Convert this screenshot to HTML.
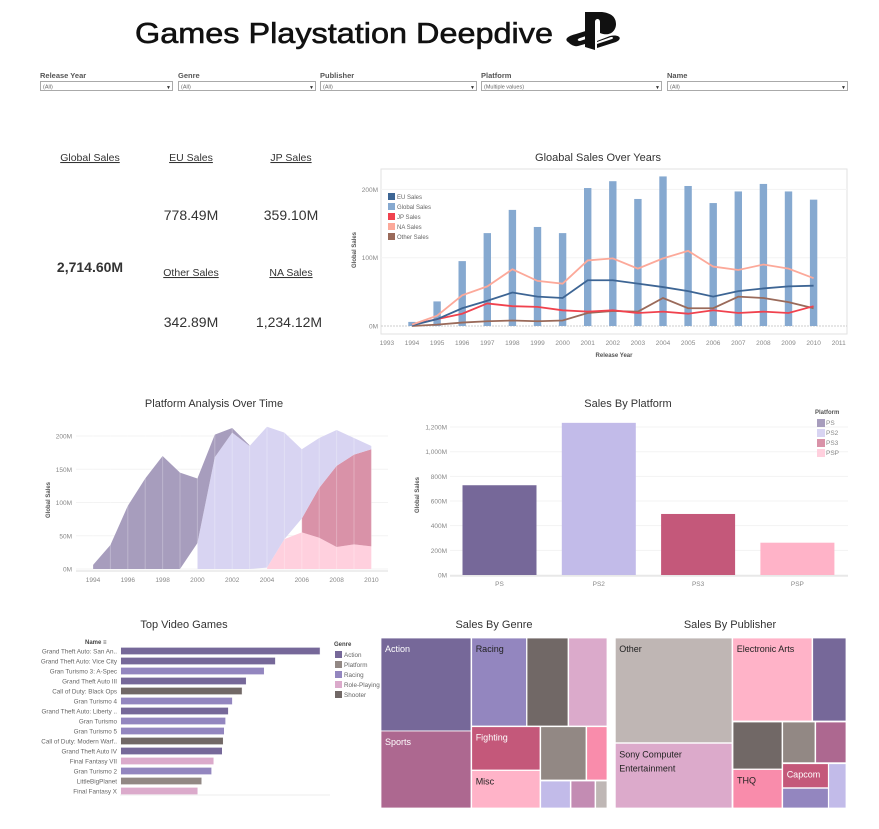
<!DOCTYPE html>
<html><head><meta charset="utf-8"><style>
html,body{margin:0;padding:0;background:#fff;width:879px;height:829px;overflow:hidden}
svg text{font-family:"Liberation Sans",sans-serif}
</style></head><body>
<svg id="s" width="879" height="829" viewBox="0 0 879 829" xmlns="http://www.w3.org/2000/svg">
<text x="135" y="43" font-size="29" fill="#111" stroke="#111" stroke-width="0.6" textLength="418" lengthAdjust="spacingAndGlyphs">Games Playstation Deepdive</text>
<g fill="#111">
<path d="M585 12 L585 47 L595 50 L595 22 C595 18 600 18 600 22 L600 33 C610 37 616 31 616 24 C616 17 611 13 602 12 Z"/>
<path d="M568 42 C564 39 568 36 576 34 L592 29 L592 34 L580 38 C577 39 577 41 580 41 L592 37 L592 42 L578 46 C574 47 570 44 568 42 Z"/>
<path d="M597 41 L610 36 C618 34 624 38 616 42 L597 48 L597 44 L612 39 C614 38 613 37 611 37 L597 42 Z"/>
</g>
<g id="filters"></g>
<g id="kpi" font-size="14" fill="#333" text-anchor="middle">
<text x="90" y="161" font-size="10.5" text-decoration="underline">Global Sales</text>
<text x="191" y="161" font-size="10.5" text-decoration="underline">EU Sales</text>
<text x="291" y="161" font-size="10.5" text-decoration="underline">JP Sales</text>
<text x="191" y="220">778.49M</text>
<text x="291" y="220">359.10M</text>
<text x="90" y="272" font-weight="bold">2,714.60M</text>
<text x="191" y="276" font-size="10.5" text-decoration="underline">Other Sales</text>
<text x="291" y="276" font-size="10.5" text-decoration="underline">NA Sales</text>
<text x="191" y="327">342.89M</text>
<text x="289" y="327">1,234.12M</text>
</g>
<g id="c1"></g><g id="c2"></g><g id="c3"></g><g id="c4"></g>
<g id="tm"></g>
</svg>
<script>
// ---- Chart 1: Global sales over years ----
const years=[1994,1995,1996,1997,1998,1999,2000,2001,2002,2003,2004,2005,2006,2007,2008,2009,2010];
const globalSales=[6,36,95,136,170,145,136,202,212,186,219,205,180,197,208,197,185];
const naSales=[2,15,45,58,83,66,62,96,99,84,99,110,87,82,90,84,70];
const euSales=[1,10,26,37,49,43,41,67,67,62,57,51,43,51,55,58,59];
const jpSales=[2,10,18,33,29,28,23,21,23,19,21,18,23,19,21,19,29];
const otherSales=[0,2,5,7,8,7,8,19,22,21,41,26,26,43,41,35,26];
const c1Ticks=[0,100,200];
// ---- Chart 2: Platform analysis (stacked area), null = no sales that year ----
const psSeries=[6,36,95,136,170,145,97,34,7,1,null,null,null,null,null,null,null];
const ps2Series=[null,null,null,null,null,null,39,168,205,185,212,160,104,75,54,25,5];
const ps3Series=[null,null,null,null,null,null,null,null,null,null,null,null,21,75,122,135,146];
const pspSeries=[null,null,null,null,null,null,null,null,null,null,2,45,55,47,33,37,34];
const c2Ticks=[0,50,100,150,200];
const c2Years=[1994,1996,1998,2000,2002,2004,2006,2008,2010];
// ---- Chart 3: Sales by platform ----
const platforms=['PS','PS2','PS3','PSP'];
const platformSales=[728,1234,495,262];
const c3Ticks=[0,200,400,600,800,1000,1200];
// ---- Chart 4: Top video games ----
const gameNames=['Grand Theft Auto: San An..','Grand Theft Auto: Vice City','Gran Turismo 3: A-Spec','Grand Theft Auto III','Call of Duty: Black Ops','Gran Turismo 4','Grand Theft Auto: Liberty ..','Gran Turismo','Gran Turismo 5','Call of Duty: Modern Warf..','Grand Theft Auto IV','Final Fantasy VII','Gran Turismo 2','LittleBigPlanet','Final Fantasy X'];
const gameSales=[20.81,16.15,14.98,13.10,12.67,11.66,11.24,10.95,10.81,10.70,10.60,9.72,9.49,8.46,8.05];
const gameGenres=['Action','Action','Racing','Action','Shooter','Racing','Action','Racing','Racing','Shooter','Action','Role-Playing','Racing','Platform','Role-Playing'];

const NS='http://www.w3.org/2000/svg';
function el(tag,attrs,parent,txt){const e=document.createElementNS(NS,tag);for(const k in attrs)e.setAttribute(k,attrs[k]);if(txt!==undefined)e.textContent=txt;parent.appendChild(e);return e;}
const G='#888';

// filters
const fl=document.getElementById('filters');
const filters=[['Release Year','(All)',40,172],['Genre','(All)',178,315],['Publisher','(All)',320,476],['Platform','(Multiple values)',481,661],['Name','(All)',667,847]];
filters.forEach(f=>{
  const g=el('g',{},fl);
  
  
  el('text',{x:f[2],y:78,'font-size':7.5,fill:'#555','font-weight':'bold'},g,f[0]);
  el('rect',{x:f[2]+0.5,y:81.5,width:f[3]-f[2],height:9,fill:'#fff',stroke:'#aaa'},g);
  el('text',{x:f[2]+3,y:88.5,'font-size':5.5,fill:'#666'},g,f[1]);
  el('text',{x:f[3]-6,y:89,'font-size':5,fill:'#333'},g,'▼');
});

// chart 1
(function(){
  const g=document.getElementById('c1');
  
  
  const X=y=>412+(y-1994)*25.1, Y=v=>326-v*0.683;
  el('text',{x:598,y:161,'font-size':11,fill:'#333','text-anchor':'middle'},g,'Gloabal Sales Over Years');
  el('rect',{x:381,y:169,width:466,height:165,fill:'none',stroke:'#e2e2e2'},g);
  c1Ticks.forEach(t=>{el('line',{x1:381,x2:847,y1:Y(t),y2:Y(t),stroke:t?'#f3f3f3':'#ccc','stroke-dasharray':t?'':'2,1'},g);
    const tx=el('text',{x:378,y:Y(t)+2.5,'font-size':6.5,fill:G,'text-anchor':'end'},g,t+'M');});
  for(let y=1993;y<=2011;y++){const tx=el('text',{x:X(y),y:345,'font-size':6.5,fill:G,'text-anchor':'middle'},g,y);}
  el('text',{x:614,y:357,'font-size':6,fill:'#555','font-weight':'bold','text-anchor':'middle'},g,'Release Year');
  el('text',{x:0,y:0,'font-size':6,fill:'#555','font-weight':'bold','text-anchor':'middle',transform:'translate(356,250) rotate(-90)'},g,'Global Sales');
  years.forEach((y,i)=>{const r=el('rect',{x:X(y)-3.7,y:Y(globalSales[i]),width:7.4,height:globalSales[i]*0.683,fill:'#86a9d0'},g);});
  const lines=[[otherSales,'#9a6a5a','other-sales-line'],[jpSales,'#f0424e','jp-sales-line'],[euSales,'#3d6594','eu-sales-line'],[naSales,'#fca99a','na-sales-line']];
  lines.forEach(l=>{const p=el('polyline',{points:years.map((y,i)=>X(y)+','+Y(l[0][i])).join(' '),fill:'none',stroke:l[1],'stroke-width':1.8},g);});
  const leg=[['EU Sales','#3d6594'],['Global Sales','#86a9d0'],['JP Sales','#f0424e'],['NA Sales','#fca99a'],['Other Sales','#9a6a5a']];
  leg.forEach((l,i)=>{const lg=el('g',{},g);
    el('rect',{x:388,y:193+i*10,width:7,height:7,fill:l[1]},lg);el('text',{x:397,y:199+i*10,'font-size':6,fill:'#666'},lg,l[0]);});
})();

// chart 2
(function(){
  const g=document.getElementById('c2');
  
  
  const X=y=>93+(y-1994)*17.4, Y=v=>569-v*0.665;
  el('text',{x:214,y:407,'font-size':11,fill:'#333','text-anchor':'middle'},g,'Platform Analysis Over Time');
  c2Ticks.forEach(t=>{el('line',{x1:76,x2:388,y1:Y(t),y2:Y(t),stroke:'#f3f3f3'},g);
    const tx=el('text',{x:72,y:Y(t)+2.5,'font-size':6.5,fill:G,'text-anchor':'end'},g,t+'M');});
  el('line',{x1:76,x2:388,y1:571,y2:571,stroke:'#ddd'},g);
  c2Years.forEach(y=>{const tx=el('text',{x:X(y),y:582,'font-size':6.5,fill:G,'text-anchor':'middle'},g,y);});
  el('text',{x:0,y:0,'font-size':6,fill:'#555','font-weight':'bold','text-anchor':'middle',transform:'translate(50,500) rotate(-90)'},g,'Global Sales');
  const stack=[[pspSeries,'#ffd0de','psp-area'],[ps3Series,'#d992a8','ps3-area'],[ps2Series,'#d8d4f2','ps2-area'],[psSeries,'#a79dbd','ps-area']];
  let base=years.map(()=>0);
  stack.forEach(s=>{const top=base.map((b,i)=>b+(s[0][i]||0));
    const idx=years.map((y,i)=>i).filter(i=>s[0][i]!==null);
    const pts=idx.map(i=>X(years[i])+','+Y(top[i])).concat(idx.slice().reverse().map(i=>X(years[i])+','+Y(base[i])));
    const p=el('polygon',{points:pts.join(' '),fill:s[1]},g);
    base=top;});
  years.forEach(y=>el('line',{x1:X(y),x2:X(y),y1:Y(0),y2:Y(230),stroke:'#fff','stroke-opacity':0.25},g));
})();

// chart 3
(function(){
  const g=document.getElementById('c3');
  
  
  const Y=v=>575-v*0.1233, X=i=>450+i*99.3;
  el('text',{x:628,y:407,'font-size':11,fill:'#333','text-anchor':'middle'},g,'Sales By Platform');
  c3Ticks.forEach(t=>{el('line',{x1:450,x2:848,y1:Y(t),y2:Y(t),stroke:'#f3f3f3'},g);
    const tx=el('text',{x:447,y:Y(t)+2.5,'font-size':6.5,fill:G,'text-anchor':'end'},g,t.toLocaleString('en-US')+'M');});
  el('line',{x1:450,x2:848,y1:576,y2:576,stroke:'#ddd'},g);
  el('text',{x:0,y:0,'font-size':6,fill:'#555','font-weight':'bold','text-anchor':'middle',transform:'translate(419,495) rotate(-90)'},g,'Global Sales');
  const cols=['#766899','#c2bbe9','#c4587a','#ffb3c8'];
  platforms.forEach((p,i)=>{const r=el('rect',{x:X(i)+12.5,y:Y(platformSales[i]),width:74,height:platformSales[i]*0.1233,fill:cols[i]},g);
    el('text',{x:X(i)+49.5,y:586,'font-size':6.5,fill:G,'text-anchor':'middle'},g,p);});
  el('text',{x:815,y:414,'font-size':6,fill:'#555','font-weight':'bold'},g,'Platform');
  const lc=['#a79dbd','#d8d4f2','#d992a8','#ffd0de'];
  platforms.forEach((p,i)=>{const lg=el('g',{},g);
    el('rect',{x:817,y:419+i*10,width:8,height:8,fill:lc[i]},lg);el('text',{x:826,y:425+i*10,'font-size':6.5,fill:G},lg,p);});
})();

// chart 4
(function(){
  const g=document.getElementById('c4');
  
  
  const gc={'Action':'#766899','Platform':'#928884','Racing':'#9386bf','Role-Playing':'#dbaacb','Shooter':'#716866'};
  const X=v=>120.7+v*9.58, Yc=i=>651+i*10;
  el('text',{x:184,y:628,'font-size':11,fill:'#333','text-anchor':'middle'},g,'Top Video Games');
  el('text',{x:85,y:644,'font-size':6,fill:'#444','font-weight':'bold'},g,'Name ≡');
  gameNames.forEach((n,i)=>{
    const t=el('text',{x:117,y:Yc(i)+2.3,'font-size':6.3,fill:'#666','text-anchor':'end'},g,n);
    const r=el('rect',{x:120.7,y:Yc(i)-3.6,width:X(gameSales[i])-120.7,height:7.2,fill:gc[gameGenres[i]],stroke:'#fff','stroke-width':0.5},g);
  });
  el('line',{x1:120,x2:330,y1:795,y2:795,stroke:'#eee'},g);
  el('text',{x:334,y:646,'font-size':6,fill:'#444','font-weight':'bold'},g,'Genre');
  Object.keys(gc).forEach((k,i)=>{const lg=el('g',{},g);
    el('rect',{x:335,y:651+i*10,width:7,height:7,fill:gc[k]},lg);el('text',{x:344,y:657+i*10,'font-size':6.3,fill:'#666'},lg,k);});
})();

// treemaps
(function(){
  const g=document.getElementById('tm');
  el('text',{x:494,y:628,'font-size':11,fill:'#333','text-anchor':'middle'},g,'Sales By Genre');
  el('text',{x:730,y:628,'font-size':11,fill:'#333','text-anchor':'middle'},g,'Sales By Publisher');
  const genre=[['Action',381,638,471,731,'#766899','#fff'],['Sports',381,731,471,808,'#ad6890','#fff'],['Racing',471.7,638,526.5,726,'#9386bf','#222'],['',527,638,568,726,'#716866'],['',568.7,638,607,726,'#dbaacb'],['Fighting',471.7,726.7,540,770,'#c4587a','#fff'],['Misc',471.7,770.5,540,808,'#ffb3c8','#222'],['',540.7,726.7,586,780,'#928884'],['',586.7,726.7,607,780,'#f98cab'],['',540.7,781,570.3,808,'#c2bbe9'],['',571,781,595,808,'#c38cb3'],['',595.7,781,607,808,'#bfb7b5']];
  const pub=[['Other',615.3,638,732,742.7,'#bfb6b4','#222'],['Sony Computer|Entertainment',615.3,743.3,732,808,'#dcaacb','#222'],['Electronic Arts',732.7,638,812,721,'#ffb3c8','#222'],['',812.7,638,846,721,'#766899'],['',733,722,782,769,'#716866'],['',782.7,722,815,762.7,'#928884'],['',815.7,722,846,762.7,'#ad6890'],['THQ',733,769.5,782,808,'#f98cab','#222'],['Capcom',782.7,763.7,828.3,787.7,'#c4587a','#fff'],['',782.7,788.3,828.3,808,'#9386bf'],['',828.7,763.7,846,808,'#c2bbe9']];
  [[genre,'genre'],[pub,'publisher']].forEach(set=>set[0].forEach(c=>{
    const cg=el('g',{},g);
    el('rect',{x:c[1],y:c[2],width:c[3]-c[1],height:c[4]-c[2],fill:c[5],stroke:'#fff','stroke-width':0.8},cg);
    if(c[0])c[0].split('|').forEach((t,j)=>el('text',{x:c[1]+4,y:c[2]+14+j*14,'font-size':9,fill:c[6]},cg,t));
  }));
})();
</script>
</body></html>
